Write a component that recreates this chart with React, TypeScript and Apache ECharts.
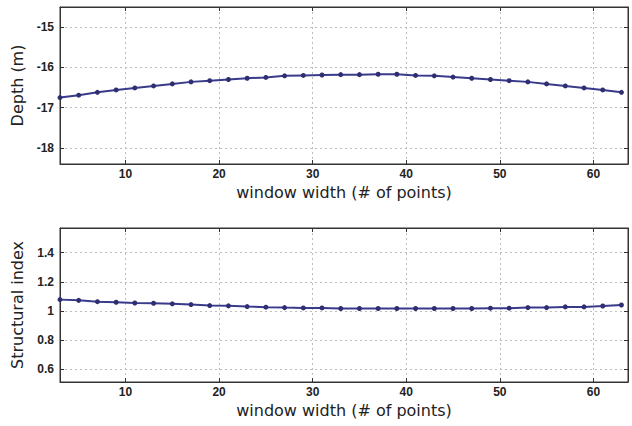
import React, { useEffect, useRef } from "react";
import * as echarts from "echarts";

// window widths (odd number of points)
const windowWidths = [
  3, 5, 7, 9, 11, 13, 15, 17, 19, 21, 23, 25, 27, 29, 31, 33, 35, 37, 39, 41,
  43, 45, 47, 49, 51, 53, 55, 57, 59, 61, 63,
];

// estimated source depth (m) for each window width
const depthValues = [
  -16.75, -16.69, -16.62, -16.56, -16.51, -16.46, -16.41, -16.36, -16.33,
  -16.3, -16.27, -16.25, -16.21, -16.2, -16.19, -16.18, -16.18, -16.17,
  -16.17, -16.2, -16.21, -16.24, -16.27, -16.3, -16.33, -16.36, -16.41,
  -16.46, -16.51, -16.56, -16.62,
];

// estimated structural index for each window width
const structuralIndex = [
  1.077, 1.072, 1.063, 1.059, 1.054, 1.052, 1.048, 1.043, 1.036, 1.034, 1.029,
  1.025, 1.022, 1.02, 1.02, 1.016, 1.016, 1.016, 1.016, 1.016, 1.016, 1.016,
  1.016, 1.018, 1.018, 1.022, 1.022, 1.027, 1.027, 1.033, 1.04,
];

const xTicks = [10, 20, 30, 40, 50, 60];
const depthTicks = [-18, -17, -16, -15];
const indexTicks = [0.6, 0.8, 1, 1.2, 1.4];

const LABEL_FONT = "'Liberation Sans', Arial, sans-serif";
const TITLE_FONT = "'DejaVu Sans', sans-serif";
const LINE = "#3a3a8c";
const GRID = "#bdbdbd";

export default function App() {
  const ref = useRef<HTMLDivElement>(null);

  useEffect(() => {
    if (!ref.current) return;
    const chart = echarts.init(ref.current, undefined, { renderer: "svg" });

    const gridBox = {
      show: true,
      borderColor: "#333",
      borderWidth: 1,
      backgroundColor: "#fff",
    };

    const tickStyle = (ticks: number[]) => ({
      show: true,
      inside: true,
      length: 4,
      customValues: ticks,
      lineStyle: { color: "#333" },
    });

    const labelStyle = (ticks: number[], margin: number) => ({
      customValues: ticks,
      fontFamily: LABEL_FONT,
      fontSize: 12,
      fontWeight: "bold" as const,
      color: "#222",
      margin,
    });

    const dotted = {
      show: true,
      lineStyle: { color: GRID, type: [2, 3] as any, width: 1 },
    };

    const xMain = (gridIndex: number, nameGap: number) => ({
      type: "value" as const,
      gridIndex,
      min: 3,
      max: 63.7,
      name: "window width (# of points)",
      nameLocation: "middle" as const,
      nameGap,
      nameTextStyle: { fontFamily: TITLE_FONT, fontSize: 16, color: "#222" },
      axisLine: { show: true, onZero: false, lineStyle: { color: "#333" } },
      axisTick: tickStyle(xTicks),
      axisLabel: labelStyle(xTicks, 4),
      splitLine: dotted,
    });

    const xTop = (gridIndex: number) => ({
      type: "value" as const,
      gridIndex,
      position: "top" as const,
      min: 3,
      max: 63.7,
      axisLine: { show: true, onZero: false, lineStyle: { color: "#333" } },
      axisTick: tickStyle(xTicks),
      axisLabel: { show: false },
      splitLine: { show: false },
    });

    const yMain = (
      gridIndex: number,
      min: number,
      max: number,
      ticks: number[],
      name: string
    ) => ({
      type: "value" as const,
      gridIndex,
      min,
      max,
      name,
      nameLocation: "middle" as const,
      nameGap: 35,
      nameTextStyle: { fontFamily: TITLE_FONT, fontSize: 16, color: "#222" },
      axisLine: { show: true, onZero: false, lineStyle: { color: "#333" } },
      axisTick: tickStyle(ticks),
      axisLabel: labelStyle(ticks, 6),
      splitLine: dotted,
    });

    const yRight = (
      gridIndex: number,
      min: number,
      max: number,
      ticks: number[]
    ) => ({
      type: "value" as const,
      gridIndex,
      position: "right" as const,
      min,
      max,
      axisLine: { show: true, onZero: false, lineStyle: { color: "#333" } },
      axisTick: tickStyle(ticks),
      axisLabel: { show: false },
      splitLine: { show: false },
    });

    const seriesStyle = {
      type: "line" as const,
      symbol: "circle",
      symbolSize: 5,
      itemStyle: { color: "#2e2e70" },
      lineStyle: { color: LINE, width: 2 },
    };

    chart.setOption({
      animation: false,
      backgroundColor: "#fff",
      grid: [
        { left: 60, right: 4, top: 7, height: 157, ...gridBox },
        { left: 60, right: 4, top: 228, height: 154, ...gridBox },
      ],
      xAxis: [xMain(0, 20), xMain(1, 20), xTop(0), xTop(1)],
      yAxis: [
        yMain(0, -18.4, -14.5, depthTicks, "Depth (m)"),
        yMain(1, 0.51, 1.57, indexTicks, "Structural index"),
        yRight(0, -18.4, -14.5, depthTicks),
        yRight(1, 0.51, 1.57, indexTicks),
      ],
      series: [
        {
          ...seriesStyle,
          xAxisIndex: 0,
          yAxisIndex: 0,
          data: windowWidths.map((w, i) => [w, depthValues[i]]),
        },
        {
          ...seriesStyle,
          xAxisIndex: 1,
          yAxisIndex: 1,
          data: windowWidths.map((w, i) => [w, structuralIndex[i]]),
        },
      ],
    });

    return () => chart.dispose();
  }, []);

  return (
    <div
      ref={ref}
      style={{ position: "fixed", left: 0, top: 0, width: 632, height: 426 }}
    />
  );
}
